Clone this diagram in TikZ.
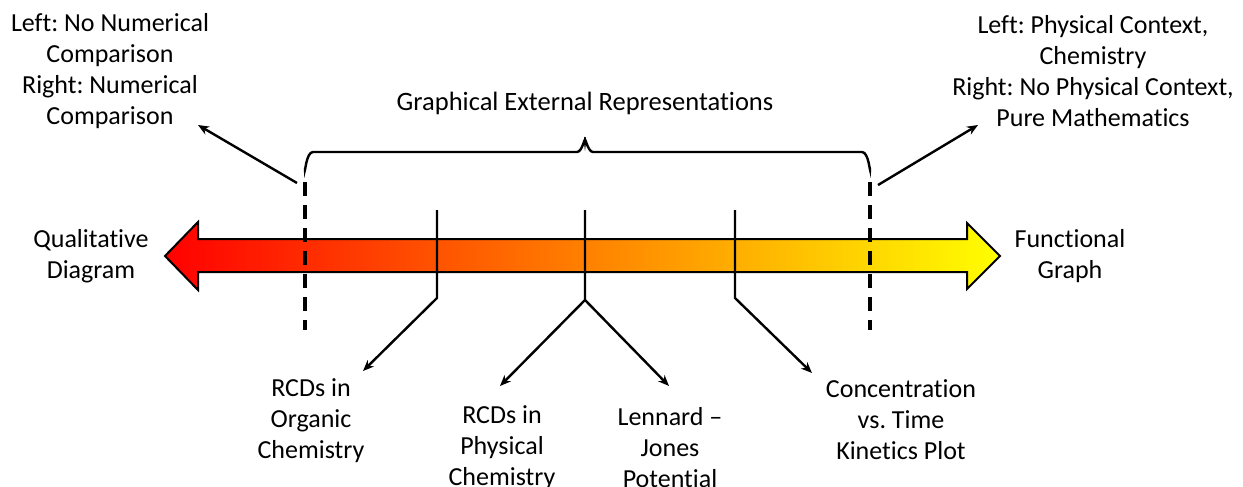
\documentclass[tikz,border=0pt]{standalone}
\usepackage{fontspec}
\setmainfont{Carlito}[Ligatures=NoCommon]
\usetikzlibrary{arrows.meta}
\tikzset{
  lbl/.style={align=center, inner sep=0pt, font=\fontsize{26}{31}\selectfont},
  conn/.style={line width=2.4pt, line join=miter},
  arr/.style={conn, -{Stealth[length=11pt,width=9pt]}},
  dashline/.style={line width=4pt, dash pattern=on 14pt off 9pt},
}
\begin{document}
\frenchspacing
\begin{tikzpicture}[x=1pt,y=-1pt]
\useasboundingbox (0,0) rectangle (1243,487);
% big gradient arrow
\shade[left color=red, right color=yellow, draw=black, line width=2pt, line join=miter]
  (165,256) -- (198,222) -- (198,239) -- (967,239) -- (967,223) -- (1000,256)
  -- (967,289) -- (967,272) -- (198,272) -- (198,290) -- cycle;
% labels
\node[lbl] (qual) at (91,256) {Qualitative\\Diagram};
\node[lbl] (func) at (1070,256) {Functional\\Graph};
\node[lbl] (tl) at (110,71) {Left: No Numerical\\Comparison\\Right: Numerical\\Comparison};
\node[lbl] (tr) at (1093,71) {Left: Physical Context,\\Chemistry\\Right: No Physical Context,\\Pure Mathematics};
\node[lbl, font=\fontsize{26.5}{31}\selectfont] (ger) at (585,103) {Graphical External Representations};
\node[lbl] (org) at (311,421) {RCDs in\\Organic\\Chemistry};
\node[lbl] (phys) at (502,448) {RCDs in\\Physical\\Chemistry};
\node[lbl] (lj) at (670,448) {Lennard --\\Jones\\Potential};
\node[lbl] (conc) at (901,420) {Concentration\\vs. Time\\Kinetics Plot};
% dashed boundaries
\coordinate (dlt) at (305,182);
\coordinate (dlb) at (305,330);
\coordinate (drt) at (870,182);
\coordinate (drb) at (870,330);
\draw[dashline] (dlt) -- (dlb);
\draw[dashline] (drt) -- (drb);
% brace
\draw[conn, line cap=butt]
  (305,168) to[out=-90,in=180] (313,152) -- (577,152)
  to[out=0,in=90] (585,141) to[out=90,in=180] (593,152) -- (862,152)
  to[out=0,in=-90] (870,168);
% arrows to top texts
\coordinate (tla) at (297,183);
\coordinate (tlb) at (198,125);
\coordinate (tra) at (878,185);
\coordinate (trb) at (978,125);
\draw[arr] (tla) -- (tlb);
\draw[arr] (tra) -- (trb);
% markers
\coordinate (m1t) at (437,210);
\coordinate (m1b) at (437,298);
\coordinate (m1e) at (363,371);
\coordinate (m2t) at (585,210);
\coordinate (m2b) at (585,300);
\coordinate (m2l) at (500,386);
\coordinate (m2r) at (669,386);
\coordinate (m3t) at (735,210);
\coordinate (m3b) at (735,298);
\coordinate (m3e) at (812,373);
\draw[arr] (m1t) -- (m1b) -- (m1e);
\draw[arr] (m2t) -- (m2b) -- (m2l);
\draw[arr] (m2b) -- (m2r);
\draw[arr] (m3t) -- (m3b) -- (m3e);
\end{tikzpicture}
\end{document}
